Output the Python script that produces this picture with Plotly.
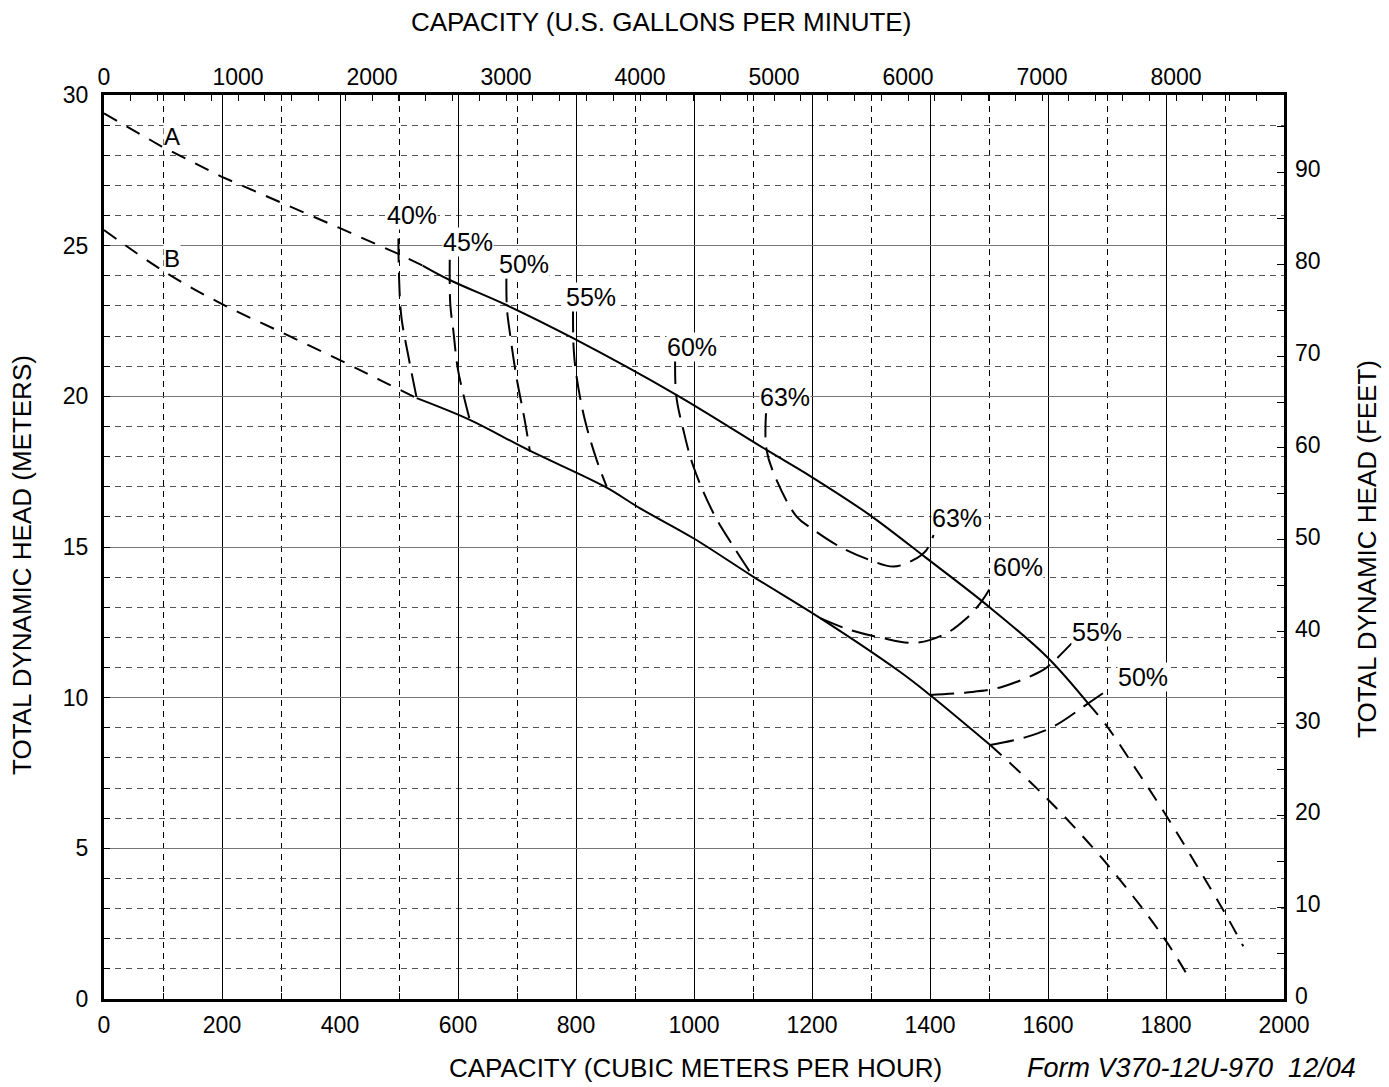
import plotly.graph_objects as go

# ---------------- data (capacity in m3/h, head in m) ----------------
a_dash_q = [0, 98, 199, 298, 400, 496, 540]
a_dash_h = [29.39, 28.29, 27.29, 26.46, 25.58, 24.75, 24.34]
a_solid_q = [540, 586, 682, 795, 970, 1123, 1199, 1298, 1394, 1496, 1598, 1668]
a_solid_h = [24.34, 23.86, 23.03, 21.93, 20.05, 18.22, 17.33, 16.06, 14.63, 13.08, 11.36, 9.81]
a_tail_q = [1668, 1700, 1750, 1800, 1850, 1900, 1931]
a_tail_h = [9.81, 9.05, 7.6, 6.1, 4.5, 2.85, 1.75]

b_dash_q = [0, 98, 197, 298, 400, 468, 530]
b_dash_h = [25.52, 24.19, 23.09, 22.15, 21.2, 20.54, 19.94]
b_solid_q = [530, 620, 719, 849, 908, 999, 1100, 1214, 1349, 1400, 1502]
b_solid_h = [19.94, 19.22, 18.22, 17.0, 16.29, 15.29, 14.02, 12.64, 10.86, 10.09, 8.43]
b_tail_q = [1502, 1598, 1699, 1795, 1843]
b_tail_h = [8.43, 6.66, 4.50, 2.07, 0.57]

eff_curves = {
    "40% L": ([499, 500, 504, 516, 530], [25.24, 24.0, 22.64, 21.32, 19.94]),
    "45% L": ([586, 587, 592, 600, 620], [24.53, 23.03, 22.2, 20.88, 19.22]),
    "50% L": ([682, 683, 688, 699, 713, 722], [23.92, 22.9, 22.1, 20.65, 19.22, 18.16]),
    "55% L": ([795, 796, 801, 815, 835, 852], [22.92, 21.6, 20.65, 19.22, 17.89, 17.0]),
    "60% L": ([968, 970, 982, 999, 1033, 1067, 1100], [21.21, 20.01, 18.88, 17.67, 16.12, 15.01, 14.02]),
    "60% R": ([1214, 1264, 1315, 1375, 1428, 1460, 1485, 1507], [12.64, 12.25, 12.0, 11.82, 12.14, 12.6, 13.13, 13.80]),
    "63%": ([1122, 1123, 1140, 1174, 1199, 1247, 1298, 1338, 1372, 1394, 1406],
            [19.44, 18.22, 17.22, 16.01, 15.62, 15.01, 14.57, 14.35, 14.57, 14.90, 15.40]),
    "55% R": ([1400, 1462, 1519, 1592, 1609, 1640], [10.09, 10.17, 10.34, 10.92, 11.19, 11.80]),
    "50% R": ([1502, 1564, 1609, 1668, 1697], [8.43, 8.70, 9.04, 9.81, 10.20]),
}

eff_labels = ["40%", "45%", "50%", "55%", "60%", "63%", "63%", "60%", "55%", "50%"]
eff_label_q = [522, 617, 712, 825, 997, 1154, 1446, 1549, 1683, 1761]
eff_label_h = [26.02, 25.12, 24.39, 23.30, 21.64, 19.98, 15.96, 14.34, 12.18, 10.69]

curve_labels = ["A", "B"]
curve_label_q = [115, 115]
curve_label_h = [28.61, 24.59]

gpm_ticks = [0, 1000, 2000, 3000, 4000, 5000, 6000, 7000, 8000]
feet_ticks = [0, 10, 20, 30, 40, 50, 60, 70, 80, 90]

M3H_PER_GPM = 0.2271247
M_PER_FT = 0.3048
X_MAX = 2000
Y_MAX = 30

FONT = "Liberation Sans, Arial, Helvetica, sans-serif"
W, H = 1389, 1087
PLOT_L, PLOT_T, PLOT_W, PLOT_H = 104, 95, 1180, 904   # target screen geometry
ML, MT = PLOT_L, PLOT_T
MR, MB = W - ML - PLOT_W, H - MT - PLOT_H

fig = go.Figure()

def add_line(q, h, dash, shape="linear"):
    fig.add_trace(go.Scatter(x=q, y=h, mode="lines", hoverinfo="skip", showlegend=False,
                             line=dict(color="black", width=2, dash=dash, shape=shape)))

add_line(a_dash_q, a_dash_h, "15px,11px")
add_line(a_solid_q, a_solid_h, "solid", "spline")
add_line(a_tail_q, a_tail_h, "15px,11px", "spline")
add_line(b_dash_q, b_dash_h, "15px,11px", "spline")
add_line(b_solid_q, b_solid_h, "solid", "spline")
add_line(b_tail_q, b_tail_h, "15px,11px", "spline")

for name, (q, h) in eff_curves.items():
    add_line(q, h, "24px,10px", "spline")

# invisible carriers so the secondary (gpm / feet) axes are drawn
fig.add_trace(go.Scatter(x=gpm_ticks, y=[0] * len(gpm_ticks), xaxis="x2", yaxis="y",
                         mode="markers", marker=dict(opacity=0), hoverinfo="skip", showlegend=False))
fig.add_trace(go.Scatter(x=[0] * len(feet_ticks), y=feet_ticks, xaxis="x", yaxis="y2",
                         mode="markers", marker=dict(opacity=0), hoverinfo="skip", showlegend=False))

lbl_font = dict(family=FONT, size=25, color="black")
for t, q, h in zip(eff_labels, eff_label_q, eff_label_h):
    fig.add_annotation(x=q, y=h, xref="x", yref="y", text=t, showarrow=False,
                       font=lbl_font, bgcolor="white", borderpad=0)
for t, q, h in zip(curve_labels, curve_label_q, curve_label_h):
    fig.add_annotation(x=q, y=h, xref="x", yref="y", text=t, showarrow=False,
                       font=dict(family=FONT, size=24, color="black"), bgcolor="white", borderpad=0)

tick_font = dict(family=FONT, size=23, color="black")
title_font = dict(family=FONT, size=26, color="black")

fig.update_layout(
    width=W, height=H,
    margin=dict(l=ML, r=MR, t=MT, b=MB, autoexpand=False),
    paper_bgcolor="white", plot_bgcolor="white",
    showlegend=False,
    xaxis=dict(
        range=[0, X_MAX], dtick=200, tick0=0, tickfont=tick_font,
        ticks="inside", ticklen=6, tickcolor="black", tickwidth=1,
        showline=True, linecolor="black", linewidth=3, mirror=True,
        showgrid=True, gridcolor="black", gridwidth=1,
        zeroline=False, fixedrange=True, ticklabelstandoff=3,
        minor=dict(dtick=100, ticks="inside", ticklen=6, tickcolor="black",
                   showgrid=True, gridcolor="black", gridwidth=1, griddash="6px,5px"),
    ),
    yaxis=dict(
        range=[0, Y_MAX], dtick=5, tick0=0, tickfont=tick_font,
        ticks="inside", ticklen=6, tickcolor="black", tickwidth=1,
        showline=True, linecolor="black", linewidth=3, mirror=True,
        showgrid=True, gridcolor="#777777", gridwidth=1,
        zeroline=False, fixedrange=True, ticklabelstandoff=8,
        minor=dict(dtick=1, ticks="inside", ticklen=6, tickcolor="black",
                   showgrid=True, gridcolor="#555555", gridwidth=1, griddash="6px,5px"),
    ),
    xaxis2=dict(
        overlaying="x", side="top", anchor="y",
        range=[0, X_MAX / M3H_PER_GPM], tickvals=gpm_ticks, tickfont=tick_font,
        ticks="inside", ticklen=6, tickcolor="black",
        showline=False, showgrid=False, zeroline=False, fixedrange=True,
        ticklabelstandoff=4,
        minor=dict(dtick=200, ticks="inside", ticklen=6, tickcolor="black", showgrid=False),
    ),
    yaxis2=dict(
        overlaying="y", side="right", anchor="x",
        range=[0, Y_MAX / M_PER_FT], tickvals=feet_ticks, tickfont=tick_font,
        ticks="inside", ticklen=7, tickcolor="black",
        showline=False, showgrid=False, zeroline=False, fixedrange=True,
        ticklabelstandoff=10, ticklabelshift=-3,
        minor=dict(dtick=5, ticks="inside", ticklen=7, tickcolor="black", showgrid=False),
    ),
)

def px_x(px):
    return (px - PLOT_L) / PLOT_W

def px_y(py):
    return 1 - (py - PLOT_T) / PLOT_H

def title(text, x, y, angle=0, xanchor="center", font=title_font):
    fig.add_annotation(x=px_x(x), y=px_y(y), xref="paper", yref="paper",
                       xanchor=xanchor, yanchor="middle", textangle=angle,
                       text=text, showarrow=False, font=font)

title("CAPACITY (U.S. GALLONS PER MINUTE)", 661, 22)
title("CAPACITY (CUBIC METERS PER HOUR)", 695, 1068)
title("TOTAL DYNAMIC HEAD (METERS)", 22, 565, angle=-90)
title("TOTAL DYNAMIC HEAD (FEET)", 1367, 549, angle=-90)
title("<i>Form V370-12U-970  12/04</i>", 1358, 1068, xanchor="right",
      font=dict(family=FONT, size=27, color="black"))

fig.write_html("out.html", config={"displayModeBar": False},
               post_script="document.body.style.margin='0';document.body.style.overflow='hidden';")
